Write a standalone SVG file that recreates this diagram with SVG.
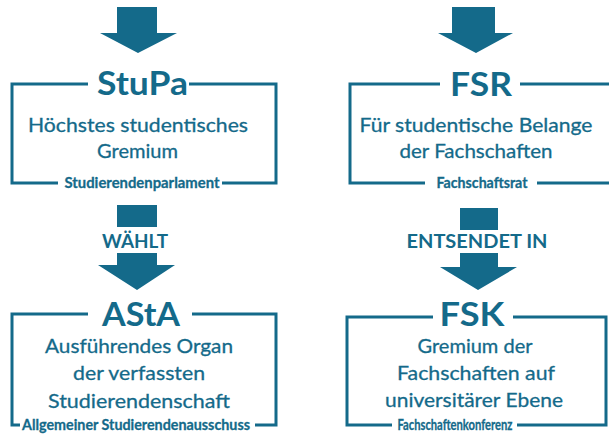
<svg xmlns="http://www.w3.org/2000/svg" width="609" height="434" viewBox="0 0 609 434">
<style>
.box{fill:none;stroke:#146a8a;stroke-width:3}
.arr{fill:#146a8a}
text{font-family:Lato,"Open Sans","Liberation Sans",sans-serif;fill:#146a8a;text-anchor:middle}
.t{font-size:32px;font-weight:700}
.b{font-size:20px;font-weight:400;stroke:#146a8a;stroke-width:0.3}
.s{font-size:15px;font-weight:700;stroke:#146a8a;stroke-width:0.3}
.v{font-size:18px;font-weight:700}
</style>
<rect width="609" height="434" fill="#ffffff"/>
<g id="connectors">
<path class="arr" d="M117 7H157V33H177L138 53L100 33H117Z"/>
<path class="arr" d="M452 7H495V33H513L476 53L438 33H452Z"/>
<g id="edge-waehlt">
<rect class="arr" x="117" y="205" width="40" height="22"/>
<path class="arr" d="M117 253H157V265H175L137 290L98 265H117Z"/>
<text class="v" x="135" y="248" textLength="66" lengthAdjust="spacingAndGlyphs">WÄHLT</text>
</g>
<g id="edge-entsendet">
<rect class="arr" x="460" y="208" width="38" height="22"/>
<path class="arr" d="M460 253H498V267H517L478 290L440 267H460Z"/>
<text class="v" x="477" y="248" textLength="141" lengthAdjust="spacingAndGlyphs">ENTSENDET IN</text>
</g>
</g>
<g id="stupa">
<path class="box" d="M88 84H12V183H58M222 183H276V84H189"/>
<text class="t" x="142.5" y="95" textLength="91" lengthAdjust="spacingAndGlyphs">StuPa</text>
<text class="b" x="138" y="132" textLength="220" lengthAdjust="spacingAndGlyphs">Höchstes studentisches</text>
<text class="b" x="137.5" y="158" textLength="81" lengthAdjust="spacingAndGlyphs">Gremium</text>
<text class="s" x="142" y="188" textLength="155" lengthAdjust="spacingAndGlyphs">Studierendenparlament</text>
</g>
<g id="fsr">
<path class="box" d="M440 84H350V183H425M537 183H614V84H520"/>
<text class="t" x="481" y="96" textLength="62" lengthAdjust="spacingAndGlyphs">FSR</text>
<text class="b" x="476" y="132" textLength="233" lengthAdjust="spacingAndGlyphs">Für studentische Belange</text>
<text class="b" x="476" y="158" textLength="153" lengthAdjust="spacingAndGlyphs">der Fachschaften</text>
<text class="s" x="482" y="188" textLength="91" lengthAdjust="spacingAndGlyphs">Fachschaftsrat</text>
</g>
<g id="asta">
<path class="box" d="M88 314H12V425H20M255 425H276V314H192"/>
<text class="t" x="141" y="326" textLength="78" lengthAdjust="spacingAndGlyphs">AStA</text>
<text class="b" x="139" y="353" textLength="188" lengthAdjust="spacingAndGlyphs">Ausführendes Organ</text>
<text class="b" x="139" y="380" textLength="132" lengthAdjust="spacingAndGlyphs">der verfassten</text>
<text class="b" x="139" y="408" textLength="182" lengthAdjust="spacingAndGlyphs">Studierendenschaft</text>
<text class="s" x="136" y="430" textLength="228" lengthAdjust="spacingAndGlyphs">Allgemeiner Studierendenausschuss</text>
</g>
<g id="fsk">
<path class="box" d="M433 317H347V425H392M517 425H606V317H513"/>
<text class="t" x="472" y="326" textLength="65" lengthAdjust="spacingAndGlyphs">FSK</text>
<text class="b" x="475" y="353" textLength="115" lengthAdjust="spacingAndGlyphs">Gremium der</text>
<text class="b" x="476" y="380" textLength="158" lengthAdjust="spacingAndGlyphs">Fachschaften auf</text>
<text class="b" x="474" y="407" textLength="178" lengthAdjust="spacingAndGlyphs">universitärer Ebene</text>
<text class="s" x="455" y="430" textLength="115" lengthAdjust="spacingAndGlyphs">Fachschaftenkonferenz</text>
</g>
</svg>
